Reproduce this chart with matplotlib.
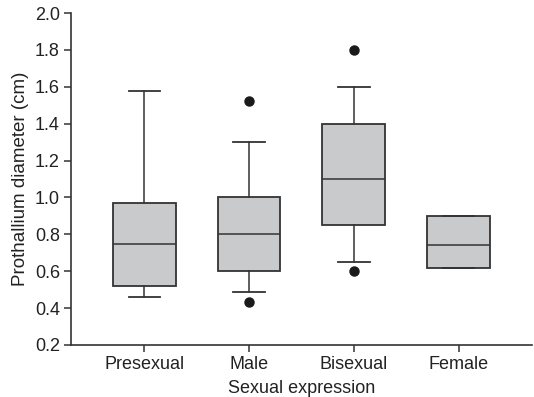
import matplotlib
matplotlib.use("Agg")
import matplotlib.pyplot as plt

categories = ["Presexual", "Male", "Bisexual", "Female"]
whisker_low = [0.46, 0.485, 0.65, 0.62]
q1 = [0.52, 0.60, 0.85, 0.62]
median = [0.75, 0.80, 1.10, 0.74]
q3 = [0.97, 1.00, 1.40, 0.90]
whisker_high = [1.58, 1.30, 1.60, 0.90]
outliers = [[], [1.525, 0.435], [1.80, 0.60], []]
yticks = [0.2, 0.4, 0.6, 0.8, 1.0, 1.2, 1.4, 1.6, 1.8, 2.0]

plt.rcParams['font.family'] = ['Liberation Sans', 'DejaVu Sans']

fig = plt.figure(figsize=(5.34, 3.97), dpi=100)
ax = fig.add_axes([0.133, 0.131, 0.863, 0.836])

stats = []
for i, c in enumerate(categories):
    stats.append(dict(label=c, whislo=whisker_low[i], q1=q1[i], med=median[i],
                      q3=q3[i], whishi=whisker_high[i], fliers=outliers[i]))

edge = "#333333"
ax.bxp(stats, positions=[1, 2, 3, 4], widths=0.6, patch_artist=True,
       showcaps=True,
       boxprops=dict(facecolor="#c9cacb", edgecolor=edge, linewidth=1.3),
       medianprops=dict(color=edge, linewidth=1.1),
       whiskerprops=dict(color=edge, linewidth=1.1),
       capprops=dict(color=edge, linewidth=1.3),
       flierprops=dict(marker="o", markerfacecolor="#1a1a1a", markeredgecolor="#1a1a1a",
                       markersize=6.5))

ax.set_xlim(0.3, 4.7)
ax.set_ylim(0.2, 2.0)
ax.set_yticks(yticks)
ax.set_yticklabels([f"{t:.1f}" for t in yticks])
ax.set_xticks([1, 2, 3, 4])
ax.set_xticklabels(categories)
for s in ["top", "right"]:
    ax.spines[s].set_visible(False)
for s in ["left", "bottom"]:
    ax.spines[s].set_color(edge)
    ax.spines[s].set_linewidth(1.2)
ax.tick_params(axis="both", direction="out", length=5, width=1.1, color=edge,
               labelsize=13, labelcolor="#222222", pad=3)
ax.tick_params(axis="x", pad=3)
ax.set_xlabel("Sexual expression", fontsize=13, color="#222222", labelpad=5)
ax.set_ylabel("Prothallium diameter (cm)", fontsize=13.5, color="#222222", labelpad=4)

fig.savefig("out.png", dpi=100)
